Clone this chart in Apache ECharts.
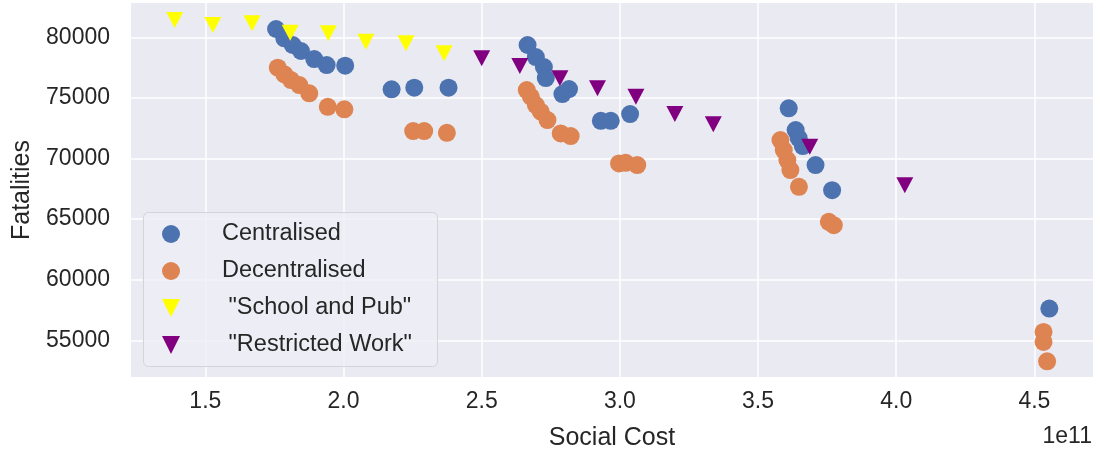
<!DOCTYPE html>
<html>
<head>
<meta charset="utf-8">
<script src="https://cdn.jsdelivr.net/npm/echarts@6/dist/echarts.min.js"></script>
<style>
html,body{margin:0;padding:0;background:#fff;}
#chart{width:1094px;height:451px;}
</style>
</head>
<body>
<div id="chart"></div>
<script>
// Social Cost values in units of 1e11 (offset text "1e11" on axis)
var centralX = [1.756,1.786,1.816,1.846,1.894,1.939,2.006, 2.174,2.256,2.380, 2.666,2.696,2.725,2.732,2.792,2.816, 2.931,2.967,3.037, 3.611,3.636,3.647,3.662,3.708,3.768, 4.554];
var centralY = [80685,79917,79364,78869,78208,77712,77655, 75705,75838,75838, 79364,78373,77547,76639,75317,75730, 73112,73112,73665, 74136,72344,71683,71022,69453,67389, 57618];

var decentralX = [1.762,1.786,1.810,1.840,1.876,1.943,2.003, 2.252,2.292,2.374, 2.663,2.678,2.696,2.714,2.738,2.786,2.822, 2.997,3.021,3.063, 3.581,3.593,3.606,3.617,3.648,3.756,3.774, 4.533,4.533,4.546];
var decentralY = [77489,76944,76473,76060,75375,74268,74054, 72261,72261,72121, 75648,75094,74409,73856,73170,72071,71848, 69594,69644,69453, 71518,70692,69866,69040,67661,64770,64497, 55685,54860,53265];

var schoolX = [1.389,1.527,1.669,1.807,1.945,2.081,2.226,2.364];
var schoolY = [81429,81016,81156,80380,80330,79637,79504,78679];

var workX = [2.500,2.638,2.783,2.919,3.058,3.199,3.338,3.687,4.031];
var workY = [78266,77630,76614,75788,75094,73665,72815,70965,67801];

var seriesNames = ['Centralised', 'Decentralised', ' "School and Pub"', ' "Restricted Work"'];
var xTicks = [1.5, 2.0, 2.5, 3.0, 3.5, 4.0, 4.5];
var yTicks = [55000, 60000, 65000, 70000, 75000, 80000];
var xLabel = 'Social Cost';
var yLabel = 'Fatalities';
var offsetText = '1e11';

function zip(xs, ys){ return xs.map(function(x,i){ return [x, ys[i]]; }); }

var TXT = '#262626';
var FONT = '"Liberation Sans", Arial, sans-serif';
var tri = 'path://M0,0L20,0L10,20Z';

var chart = echarts.init(document.getElementById('chart'), null, {renderer:'canvas'});
chart.setOption({
  animation: false,
  backgroundColor: '#ffffff',
  textStyle: {fontFamily: FONT},
  grid: {left: 131, right: 1, top: 3, bottom: 74, backgroundColor: '#EAEAF2', show: true, borderWidth: 0,
         containLabel: false, outerBoundsMode: 'none'},
  xAxis: {
    type: 'value', min: 1.231, max: 4.712,
    name: xLabel, nameLocation: 'middle', nameGap: 49,
    nameTextStyle: {color: TXT, fontSize: 25, fontFamily: FONT},
    axisLine: {show: false}, 
    axisTick: {show: false, customValues: xTicks},
    axisLabel: {customValues: xTicks, color: TXT, fontSize: 23, margin: 13, fontFamily: FONT,
      formatter: function(v){ return v.toFixed(1); }},
    splitLine: {show: true, lineStyle: {color: '#ffffff', width: 1.5}}
  },
  yAxis: {
    type: 'value', min: 51970, max: 82830,
    name: yLabel, nameLocation: 'middle', nameGap: 96, nameRotate: 90,
    nameTextStyle: {color: TXT, fontSize: 25, fontFamily: FONT},
    axisLine: {show: false},
    axisTick: {show: false, customValues: yTicks},
    axisLabel: {customValues: yTicks, color: TXT, fontSize: 23, margin: 21, fontFamily: FONT,
      formatter: function(v){ return String(v); }},
    splitLine: {show: true, lineStyle: {color: '#ffffff', width: 1.5}}
  },
  graphic: [
    {type: 'rect', left: 143, top: 212, z: 90,
     shape: {width: 294, height: 154, r: 5},
     style: {fill: 'rgba(238,238,245,0.8)', stroke: '#d3d3da', lineWidth: 1}},
    {type: 'text', right: 2, top: 425, z: 100,
     style: {text: offsetText, fill: TXT, font: '23px "Liberation Sans", Arial, sans-serif'}}
  ],
  legend: {
    orient: 'vertical', left: 162, top: 222, padding: 0, z: 100,
    itemWidth: 30, itemHeight: 18, itemGap: 13,
    textStyle: {color: TXT, fontSize: 23.5, lineHeight: 24, fontFamily: FONT, padding: [0,0,0,31]},
    data: [
      {name: seriesNames[0], icon: 'circle'},
      {name: seriesNames[1], icon: 'circle'},
      {name: seriesNames[2], icon: tri},
      {name: seriesNames[3], icon: tri}
    ]
  },
  series: [
    {name: seriesNames[0], type: 'scatter', symbol: 'circle', symbolSize: 18,
     itemStyle: {color: '#4C72B0', opacity: 1}, data: zip(centralX, centralY)},
    {name: seriesNames[1], type: 'scatter', symbol: 'circle', symbolSize: 18,
     itemStyle: {color: '#DD8452', opacity: 1}, data: zip(decentralX, decentralY)},
    {name: seriesNames[2], type: 'scatter', symbol: tri, symbolSize: [17, 16],
     itemStyle: {color: '#FFFF00', opacity: 1}, data: zip(schoolX, schoolY)},
    {name: seriesNames[3], type: 'scatter', symbol: tri, symbolSize: [17, 16],
     itemStyle: {color: '#800080', opacity: 1}, data: zip(workX, workY)}
  ]
});
</script>
</body>
</html>
